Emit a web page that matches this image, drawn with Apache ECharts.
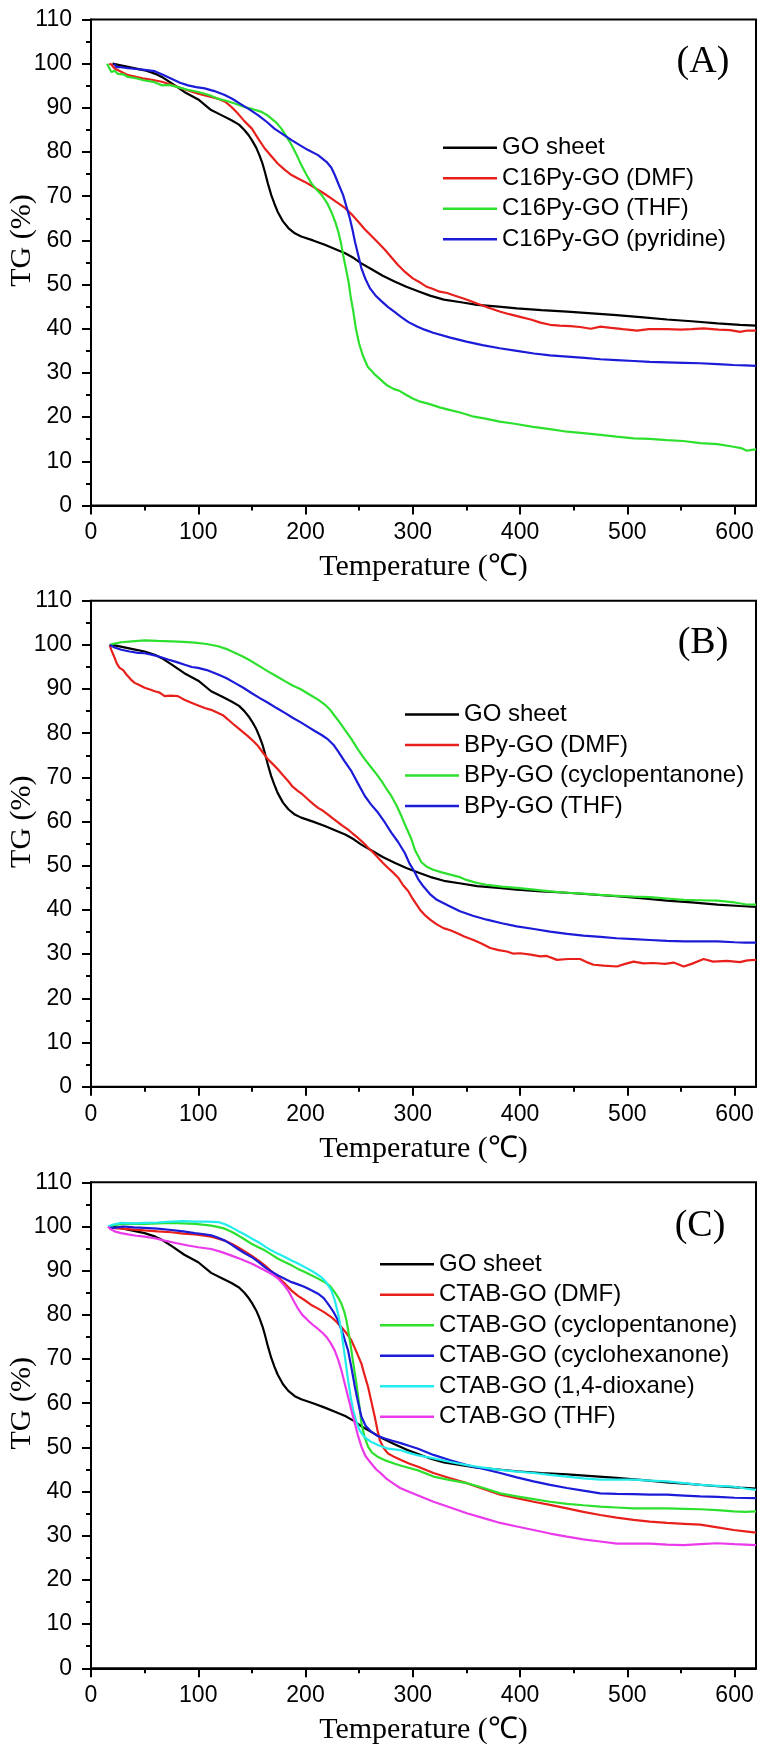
<!DOCTYPE html>
<html>
<head>
<meta charset="utf-8">
<script src="https://cdn.jsdelivr.net/npm/echarts@6/dist/echarts.min.js"></script>
<style>
html,body{margin:0;padding:0;background:#fff;}
#chart{width:765px;height:1751px;}
</style>
</head>
<body>
<div id="chart"></div>
<script>
// ---------- DATA ----------
const xTicks = [0, 100, 200, 300, 400, 500, 600];
const xMinorTicks = [50, 150, 250, 350, 450, 550];
const panelLabels = ['(A)', '(B)', '(C)'];

const namesA = ['GO sheet', 'C16Py-GO (DMF)', 'C16Py-GO (THF)', 'C16Py-GO (pyridine)'];
const namesB = ['GO sheet', 'BPy-GO (DMF)', 'BPy-GO (cyclopentanone)', 'BPy-GO (THF)'];
const namesC = ['GO sheet', 'CTAB-GO (DMF)', 'CTAB-GO (cyclopentanone)', 'CTAB-GO (cyclohexanone)', 'CTAB-GO (1,4-dioxane)', 'CTAB-GO (THF)'];

const goSheet = [[20,100],[30,99.5],[40,99],[50,98.5],[55,98.1],[60,97.7],[66,97],[75,95.6],[87,93.6],[100,91.9],[112,89.5],[122,88.3],[131,87.2],[138,86.2],[143,85],[147,83.8],[150,82.7],[154,81],[157,79.3],[160,77.3],[162,75.6],[165,72.8],[168,70.3],[171,68.3],[174,66.5],[179,64.3],[184,62.8],[190,61.6],[196,60.9],[207,60],[218,59],[228,58],[237,57.1],[245,56],[252,54.8],[262,53.4],[272,52],[283,50.7],[294,49.5],[305,48.5],[316,47.5],[329,46.6],[345,46],[360,45.4],[380,45],[397,44.6],[420,44.2],[444,43.9],[467,43.5],[490,43.1],[515,42.6],[537,42.1],[560,41.7],[584,41.2],[605,40.9],[620,40.7]];

const c16DMF = [[17,100],[19,99.8],[22,98.9],[28,98.2],[34.5,97.4],[42,97],[50,96.6],[58,96.3],[66,95.9],[73,95.4],[81,94.7],[90,94],[100,93.2],[110,92.6],[118,92.1],[125,91.4],[131,90.2],[137,88.7],[143,87],[150,85.3],[156,83],[162,80.8],[168,79.1],[174,77.4],[181,75.9],[187,74.8],[193,74],[199,73.3],[206,72.3],[212,71.4],[218,70.5],[224,69.5],[230,68.5],[237,67.3],[243,65.9],[249,64.3],[255,62.6],[262,60.9],[268,59.4],[274,57.9],[280,56.2],[286,54.5],[293,52.8],[300,51.4],[306,50.6],[313,49.5],[319,49],[325,48.4],[332,48.1],[338,47.6],[348,46.8],[360,45.7],[370,44.8],[381,43.9],[390,43.3],[400,42.7],[410,42.1],[419,41.4],[428,40.9],[437,40.7],[447,40.6],[456,40.4],[466,40],[475,40.5],[485,40.2],[496,39.9],[509,39.6],[520,39.9],[537,39.9],[550,39.8],[560,39.9],[571,40.1],[585,39.8],[596,39.7],[605,39.3],[612,39.6],[620,39.6]];

const c16THF = [[15,100],[17,99],[19,98.1],[22,98.4],[25,97.7],[30,97.6],[34.5,97],[42,96.7],[50,96.2],[58,95.9],[66,95.1],[73,95.2],[81,94.7],[90,94.1],[100,93.6],[110,92.9],[118,92.1],[126,91.6],[134,91],[143,90.2],[151,89.7],[159,89.1],[164,88.4],[168,87.6],[173,86.6],[177.5,85.3],[182,83.6],[187,81.6],[192,79.2],[196,77.1],[201,74.8],[205.5,72.9],[210,71.6],[215,70.3],[220,68.5],[224,66.5],[228,64],[230.5,62],[233,59.5],[235,56.8],[237.5,53.8],[240,50.8],[242,47.4],[244.5,44],[247,40],[250,36.6],[253.5,33.9],[258,31.4],[264,29.8],[270,28.5],[276,27.2],[282,26.4],[288,25.9],[294,25],[300,24.2],[307,23.5],[315,23],[325,22.2],[335,21.6],[345,21],[357,20.1],[369,19.6],[381,19],[395,18.5],[412,17.8],[428,17.3],[444,16.7],[459,16.4],[475,16],[490,15.6],[506,15.2],[521,15.1],[537,14.8],[552,14.6],[568,14.1],[584,13.9],[599,13.3],[606,13],[611.6,12.4],[616,12.6],[620,12.7]];

const c16Pyr = [[21.5,100],[23.6,99.2],[28,99.2],[34.5,99],[42,98.8],[50,98.6],[59.4,98.3],[67,97.5],[75,96.6],[83,95.7],[90.5,95.1],[98,94.7],[106,94.4],[115,93.8],[124.7,92.9],[132,92],[140,90.8],[148,89.6],[156,88.3],[164,86.8],[171,85.3],[179,84],[187,82.7],[195,81.5],[202,80.5],[211.7,79.3],[219.5,77.8],[224,76.5],[227.3,74.8],[231,72.6],[235,70.3],[238,67.8],[241.3,65],[244,62.2],[246,59.8],[249,56.8],[252,53.8],[256,51.2],[260,49.2],[265,47.6],[271,46.2],[277,44.9],[283,43.8],[289,42.7],[296,41.5],[304,40.5],[311,39.8],[319,39.1],[335,38],[350,37.1],[365,36.3],[381,35.6],[397,35],[413,34.4],[428,34],[444,33.7],[460,33.4],[475,33.1],[490,32.9],[506,32.7],[521,32.5],[537,32.4],[553,32.3],[568,32.2],[584,32],[599,31.8],[610,31.7],[620,31.6]];

const bpyDMF = [[17.4,100],[19,98.8],[22,97.1],[24,95.8],[26.7,94.8],[30,94.3],[33,93.3],[37,92.2],[40.7,91.4],[45,90.9],[50,90.3],[55,89.9],[59.4,89.5],[64,89.2],[68.7,88.4],[74,88.5],[81,88.4],[87,87.6],[93.6,86.9],[100,86.3],[106,85.7],[112,85.3],[118.5,84.6],[123,84.1],[127.8,83.1],[132,82.2],[137,81.2],[142,80.2],[146.5,79.3],[151,78.3],[155.8,77.1],[160,75.7],[165,74.1],[170,72.9],[174.4,71.8],[179,70.5],[183.8,69.2],[188,67.9],[193,66.9],[197,66.2],[202.4,65],[207,64],[211.7,63.1],[216,62.5],[221,61.6],[226,60.6],[230.4,59.8],[235,59],[239.7,58.2],[244,57.3],[249,56.3],[254,55.2],[258.4,54.1],[263,53],[267.7,51.8],[272,50.7],[277,49.5],[282,48.4],[286.4,47.3],[291,45.6],[295.7,44.3],[300,42.5],[306.9,40],[311,38.9],[316.2,37.8],[322,36.8],[328.6,35.9],[335,35.4],[341,34.8],[348,34],[356.6,33.2],[364,32.4],[372.2,31.4],[380,30.9],[387.7,30.6],[394,30.1],[400.2,30.2],[410,29.9],[418.8,29.5],[425,29.6],[434.4,28.7],[445,28.9],[456,28.9],[462,28.2],[468.6,27.6],[478,27.4],[490.4,27.2],[498,27.8],[505.9,28.3],[515,27.9],[524.6,28],[535,27.8],[543.2,28.1],[552.6,27.2],[560,27.8],[571.2,28.9],[580,28.3],[593,28.5],[605,28.2],[612,28.6],[620,28.7]];

const bpyCyp = [[17.4,100],[22,100.3],[28.3,100.6],[38,100.8],[50,101],[62,100.9],[75,100.8],[86,100.7],[96.7,100.5],[108,100.2],[118.5,99.7],[126,99.1],[134,98.2],[142,97.3],[149.6,96.3],[157,95.2],[165,94],[173,92.9],[180.7,91.8],[188,90.8],[196,89.9],[204,88.7],[211.7,87.6],[218,86.5],[223,85.3],[227.3,83.9],[232,82.4],[236.6,80.8],[243,78.6],[249,76.3],[255,74.2],[261.5,72.2],[266,70.8],[270.8,69.2],[275,67.6],[280,65.8],[285,63.6],[289.5,61.2],[294,58.6],[298.8,56],[302,53.6],[305,52.2],[308,50.8],[313,49.8],[319,49.1],[327,48.5],[335,48],[343,47.5],[350,46.8],[360,46.1],[369,45.7],[383,45.3],[397,45],[413,44.6],[428,44.2],[444,43.9],[459,43.7],[475,43.4],[490,43.2],[506,43],[521,42.9],[537,42.6],[553,42.3],[568,42.2],[584,42.1],[600,41.7],[610,41.3],[620,41.2]];

const bpyTHF = [[17.4,100],[22,99.4],[28.3,98.9],[36,98.5],[43.8,98.2],[50,98.1],[56.3,97.8],[64,97.3],[71.8,96.7],[80,96.1],[87.4,95.5],[94,95],[99.8,94.8],[108,94.3],[118.5,93.3],[126,92.5],[134,91.4],[142,90.3],[149.6,89.1],[157,88],[165,86.9],[173,85.7],[180.7,84.6],[188,83.5],[196,82.4],[202,81.5],[208.6,80.5],[215,79.6],[221,78.6],[226,77.4],[230.4,75.9],[236,73.8],[242.8,71.4],[249,68.6],[255.3,65.8],[261,63.9],[267.7,62],[274,59.8],[280,57.5],[286,55.5],[292.6,52.9],[297,50.5],[300.6,49.1],[305,47],[310,45.3],[316,43.6],[322.4,42.3],[333,41],[344,39.7],[356,38.7],[369,37.8],[383,37],[397,36.3],[413,35.7],[428,35.1],[444,34.6],[459,34.2],[475,33.9],[490,33.6],[506,33.4],[521,33.2],[537,33],[553,32.9],[568,32.9],[584,32.9],[600,32.7],[610,32.6],[620,32.6]];

const ctabDMF = [[15.9,100],[22,99.6],[28.3,99.5],[40,99.3],[50,99.1],[62,98.9],[75,98.7],[86,98.4],[96.7,98.2],[104,98],[112,97.7],[118,97.3],[124.7,96.8],[131,96.1],[137,95.3],[143,94.4],[149.6,93.4],[156,92.3],[162,91.2],[168,89.9],[174.4,88.5],[181,87],[187,85.5],[193,84.3],[199.3,83.3],[205,82.3],[211.7,81.4],[218,80.5],[224,79.5],[229,78.4],[233.5,77.2],[238,75.9],[242.8,74.2],[247,71.9],[252.2,68.9],[255,66.4],[258.4,63.6],[261,60.8],[264.6,56.9],[267,54],[269.3,51.6],[273,49.8],[277,48.6],[283,47.8],[289.5,47.1],[297,46.3],[305,45.6],[319.3,44.2],[335,43],[350.4,41.9],[366,40.6],[381.5,39.3],[397,38.5],[412.6,37.7],[428,37],[443.7,36.2],[459,35.4],[474.8,34.7],[490,34.1],[505.9,33.6],[521,33.2],[537,32.9],[553,32.7],[568,32.5],[584,31.9],[599.2,31.3],[610,31],[620,30.7]];

const ctabCyp = [[15.9,100],[22,100.3],[28.3,100.5],[40,100.6],[50,100.6],[62,100.7],[75,100.8],[86,100.7],[96.7,100.6],[104,100.4],[112,100.2],[118,99.9],[124.7,99.5],[131,98.8],[137,98],[143,97.1],[149.6,96.1],[156,95.3],[162,94.6],[168,93.7],[174.4,92.7],[181,91.9],[187,91.2],[193,90.4],[199.3,89.7],[205,89],[211.7,88.2],[218,87.4],[223,86.5],[227.3,85.1],[230.5,83.9],[233.5,82.5],[236,80.8],[238.2,78.7],[240.5,75.5],[242.8,71.9],[245,68.3],[247.5,64.4],[250,59.8],[252.2,55.4],[255,52.4],[258.4,50.1],[262,48.8],[267.7,47.8],[275,47],[283.3,46.3],[290,45.8],[305,44.8],[319.3,43.4],[335,42.6],[350.4,41.9],[366,40.8],[381.5,39.6],[397,38.9],[412.6,38.3],[428,37.7],[443.7,37.2],[459,36.9],[474.8,36.6],[490,36.4],[505.9,36.2],[521,36.2],[537,36.2],[553,36.1],[568,36],[584,35.8],[599.2,35.5],[610,35.4],[620,35.5]];

const ctabCyh = [[15.9,100],[20,99.7],[25.2,99.8],[30,100],[40,99.8],[50,99.7],[62,99.5],[75,99.2],[86,98.9],[96.7,98.5],[104,98.3],[112,98],[118,97.5],[124.7,96.8],[131,95.9],[137,94.9],[143,94],[149.6,93.1],[156,92],[162,90.8],[168,89.8],[174.4,88.9],[181,88.1],[187,87.4],[193,86.9],[199.3,86.3],[205,85.6],[211.7,84.8],[217,83.8],[221,82.5],[226,80.7],[230.4,78.7],[235,75.6],[239.7,71.9],[243,67.8],[246,63.7],[249,60.2],[252.2,56.9],[256,54.9],[261.5,53.5],[267,52.6],[274,52],[281,51.5],[289.5,50.9],[297,50.3],[305,49.7],[319.3,48.3],[335,47.1],[350.4,46],[366,45.1],[381.5,44.2],[397,43.2],[412.6,42.3],[428,41.5],[443.7,40.8],[459,40.2],[474.8,39.6],[490,39.5],[505.9,39.4],[521,39.3],[537,39.3],[553,39.1],[568,38.9],[584,38.8],[600,38.6],[620,38.5]];

const ctabDiox = [[15.9,100],[20,100.4],[28.3,100.8],[40,100.7],[50,100.8],[62,100.9],[75,101.1],[86,101.2],[96.7,101.1],[108,101.1],[118.5,101],[125,100.5],[131,99.8],[137,99],[143.4,98.2],[149.6,97.3],[155.8,96.5],[162,95.5],[168,94.6],[174.4,93.8],[180.7,93.1],[187,92.3],[193,91.6],[199.3,90.8],[205.5,90],[210,89.3],[214.9,88.5],[219.5,87.3],[224.2,85.5],[227.3,83.3],[230.4,80.2],[233,77],[235,73.5],[237.3,69.5],[239.7,65.2],[242,61.6],[244.4,58.4],[247.5,55.8],[250.6,53.8],[255,52.3],[261.5,51.2],[268,50.5],[277,49.7],[288.2,49.4],[297,48.7],[305,48.2],[319.3,47.5],[335,46.7],[350.4,46],[366,45.4],[381.5,44.9],[397,44.5],[412.6,44.2],[428,43.8],[443.7,43.4],[459,43],[474.8,42.7],[490,42.7],[505.9,42.7],[521,42.5],[537,42.3],[553,41.9],[568,41.5],[584,41.3],[599.2,41.1],[610,40.7],[620,40.4]];

const ctabTHF = [[15.9,100],[18,99.4],[22,98.9],[28,98.5],[34.5,98.2],[42,97.9],[50,97.7],[60,97.3],[68.7,96.8],[80,96.2],[90.5,95.7],[100,95.3],[112,94.9],[122,94.2],[131,93.4],[140,92.6],[149.6,91.6],[157,90.7],[165,89.7],[170,89],[174.4,88.2],[179,87],[183.8,85.5],[188,83.6],[193,81.4],[197,80],[202.4,78.7],[207,77.7],[211.7,76.8],[216,75.9],[219.5,75],[223.5,73.6],[227.3,71.9],[230.5,69.8],[233.5,67.4],[236.5,64.5],[239.7,61.4],[243,58.2],[246,55.4],[249,52.6],[252.2,50.1],[256,48],[261.5,46.3],[266,45],[270.8,44],[276,42.8],[282,41.8],[288.2,40.8],[297,39.9],[305,39.1],[319.3,37.7],[335,36.4],[350.4,35.1],[366,34],[381.5,32.9],[397,32.1],[412.6,31.3],[428,30.5],[443.7,29.8],[459,29.2],[474.8,28.7],[490.4,28.2],[505.9,28.2],[521.5,28.2],[537,28],[552.6,27.9],[568,28.1],[583.7,28.3],[600,28.1],[620,27.9]];

// ---------- STYLE / LAYOUT ----------
const COLORS = {black:'#000000', red:'#e8201c', green:'#2ee02e', blue:'#1b1bd8', cyan:'#22ecec', magenta:'#ea3aea'};
const SANS = 'Liberation Sans, Arial, sans-serif';
const SERIF = 'Liberation Serif, Times New Roman, serif';
const GRID_LEFT = 91, GRID_W = 665, GRID_H = 486;
const gridTops = [19.5, 600.7, 1182.3];
const legendLefts = [443, 405, 380];
const legendTops = [135.8, 702.6, 1252.2];
const labelCenters = [[703, 62.5], [703, 643], [700, 1226]];

const panels = [
  {names: namesA, data: [goSheet, c16DMF, c16THF, c16Pyr], colors: [COLORS.black, COLORS.red, COLORS.green, COLORS.blue]},
  {names: namesB, data: [goSheet, bpyDMF, bpyCyp, bpyTHF], colors: [COLORS.black, COLORS.red, COLORS.green, COLORS.blue]},
  {names: namesC, data: [goSheet, ctabDMF, ctabCyp, ctabCyh, ctabDiox, ctabTHF], colors: [COLORS.black, COLORS.red, COLORS.green, COLORS.blue, COLORS.cyan, COLORS.magenta]}
];

const grid = [], xAxis = [], yAxis = [], series = [], legend = [], graphic = [];
panels.forEach((p, k) => {
  grid.push({left: GRID_LEFT, top: gridTops[k], width: GRID_W, height: GRID_H, show: true,
    borderColor: '#000', borderWidth: 2, backgroundColor: 'transparent'});
  xAxis.push({
    type: 'value', gridIndex: k, position: 'bottom', min: 0, max: 620,
    name: 'Temperature (\u2103)', nameLocation: 'middle', nameGap: 47,
    nameTextStyle: {fontFamily: SERIF, fontSize: 30, color: '#000'},
    axisLine: {show: true, lineStyle: {color: '#000', width: 2}},
    axisTick: {show: true, inside: false, length: 9, customValues: xTicks, lineStyle: {color: '#000', width: 2}},
    axisLabel: {show: true, customValues: xTicks, margin: 16, fontFamily: SANS, fontSize: 23, color: '#000'},
    splitLine: {show: false}
  });
  xAxis.push({
    type: 'value', gridIndex: k, position: 'bottom', min: 0, max: 620,
    axisLine: {show: false},
    axisTick: {show: true, inside: false, length: 5, customValues: xMinorTicks, lineStyle: {color: '#000', width: 2}},
    axisLabel: {show: false},
    splitLine: {show: false}
  });
  yAxis.push({
    type: 'value', gridIndex: k, min: 0, max: 110, interval: 10,
    axisLine: {show: true, lineStyle: {color: '#000', width: 2}},
    axisTick: {show: true, inside: false, length: 9, lineStyle: {color: '#000', width: 2}},
    minorTick: {show: true, splitNumber: 2, length: 5, lineStyle: {color: '#000', width: 2}},
    axisLabel: {margin: 19, fontFamily: SANS, fontSize: 23, color: '#000'},
    splitLine: {show: false}
  });
  p.names.forEach((nm, i) => {
    series.push({
      name: nm, type: 'line', xAxisIndex: 2 * k, yAxisIndex: k,
      data: p.data[i], showSymbol: false, symbol: 'none', smooth: false,
      lineStyle: {color: p.colors[i], width: 2.2}, itemStyle: {color: p.colors[i]},
      emphasis: {disabled: true}, animation: false
    });
  });
  legend.push({
    orient: 'vertical', left: legendLefts[k], top: legendTops[k],
    data: p.names.map(n => ({name: n, icon: 'rect'})),
    itemWidth: 54, itemHeight: 2.5, itemGap: 6.5, itemTextGap: 7,
    selectedMode: false, padding: 0,
    textStyle: {fontFamily: SANS, fontSize: 24, color: '#000', lineHeight: 23}
  });
  graphic.push({
    type: 'text', x: 22.5, y: gridTops[k] + 221, rotation: Math.PI / 2,
    style: {text: 'TG (%)', fontSize: 30, fontFamily: SERIF, fill: '#000', align: 'center', verticalAlign: 'middle'}
  });
  graphic.push({
    type: 'text', x: labelCenters[k][0], y: labelCenters[k][1],
    style: {text: panelLabels[k], fontSize: 38, fontFamily: SERIF, fill: '#000', align: 'center', verticalAlign: 'middle'}
  });
});

const chart = echarts.init(document.getElementById('chart'), null, {renderer: 'canvas'});
chart.setOption({
  animation: false,
  backgroundColor: '#ffffff',
  grid, xAxis, yAxis, series, legend, graphic
});
</script>
</body>
</html>
